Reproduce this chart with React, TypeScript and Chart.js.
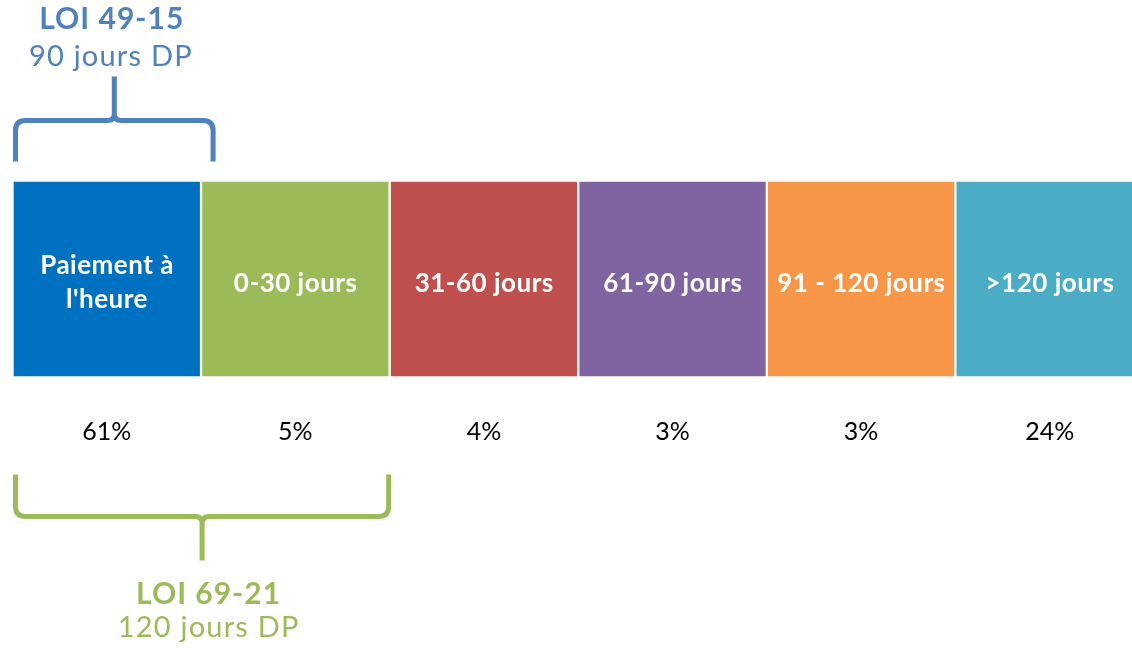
import React, { useEffect, useRef } from "react";
import { Chart, registerables } from "chart.js";

Chart.register(...registerables);

// ---- data ----
const categories: string[][] = [
  ["Paiement à", "l'heure"],
  ["0-30 jours"],
  ["31-60 jours"],
  ["61-90 jours"],
  ["91 - 120 jours"],
  [">120 jours"],
];
const shares = [61, 5, 4, 3, 3, 24];
const shareLabels = ["61%", "5%", "4%", "3%", "3%", "24%"];
const bandHeight = [1, 1, 1, 1, 1, 1];

const braceTitles = ["LOI 49-15", "LOI 69-21"];
const braceSubtitles = ["90 jours DP", "120 jours DP"];
const braceFrom = [0, 0];
const braceTo = [0, 1];
const braceSide = ["top", "bottom"];

// ---- styles ----
const boxColors = ["#0070C0", "#9BBB59", "#C0504D", "#8064A2", "#F79646", "#4BACC6"];
const braceColors = ["#4F81BD", "#9BBB59"];
const FONT = "Lato, 'Open Sans', sans-serif";

function drawBrace(
  ctx: CanvasRenderingContext2D,
  x1: number,
  x2: number,
  yBase: number,
  yMid: number,
  yTip: number,
  color: string
) {
  const dir = yTip > yBase ? 1 : -1;
  const r = 10;
  const r2 = 7;
  const xc = (x1 + x2) / 2;
  ctx.save();
  ctx.strokeStyle = color;
  ctx.lineWidth = 5;
  ctx.lineJoin = "round";
  ctx.lineCap = "butt";
  ctx.beginPath();
  ctx.moveTo(x1, yBase);
  ctx.lineTo(x1, yMid - dir * r);
  ctx.quadraticCurveTo(x1, yMid, x1 + r, yMid);
  ctx.lineTo(xc - r2, yMid);
  ctx.quadraticCurveTo(xc, yMid, xc, yMid + dir * r2);
  ctx.lineTo(xc, yTip);
  ctx.moveTo(xc, yMid + dir * r2);
  ctx.quadraticCurveTo(xc, yMid, xc + r2, yMid);
  ctx.lineTo(x2 - r, yMid);
  ctx.quadraticCurveTo(x2, yMid, x2, yMid - dir * r);
  ctx.lineTo(x2, yBase);
  ctx.stroke();
  ctx.restore();
}

function spacedText(
  ctx: CanvasRenderingContext2D,
  text: string,
  x: number,
  y: number,
  spacing: number
) {
  (ctx as any).letterSpacing = `${spacing}px`;
  ctx.fillText(text, x + spacing / 2, y);
  (ctx as any).letterSpacing = "0px";
}

const overlayPlugin = {
  id: "overlay",
  afterDatasetsDraw(chart: any) {
    const ctx: CanvasRenderingContext2D = chart.ctx;
    const meta = chart.getDatasetMeta(0);
    const area = chart.chartArea;
    const cy = (area.top + area.bottom) / 2;
    ctx.save();
    ctx.fillStyle = "#ffffff";
    ctx.textAlign = "center";
    ctx.textBaseline = "alphabetic";
    ctx.font = `bold 26px ${FONT}`;
    meta.data.forEach((bar: any, i: number) => {
      const lines = categories[i];
      if (lines.length === 1) {
        spacedText(ctx, lines[0], bar.x, cy + 12.5, 0.5);
      } else {
        spacedText(ctx, lines[0], bar.x, cy - 5, 0.5);
        spacedText(ctx, lines[1], bar.x, cy + 28.5, 0.5);
      }
    });
    // percentages
    ctx.fillStyle = "#000000";
    ctx.font = `25px ${FONT}`;
    meta.data.forEach((bar: any, i: number) => {
      ctx.fillText(shareLabels[i], bar.x, area.bottom + 62);
    });
    // braces
    braceTitles.forEach((title, k) => {
      const a = meta.data[braceFrom[k]];
      const b = meta.data[braceTo[k]];
      const x1 = a.x - a.width / 2 + 3;
      const top = braceSide[k] === "top";
      const x2 = b.x + b.width / 2 + (top ? 12 : -1);
      const xc = (x1 + x2) / 2;
      const color = braceColors[k];
      if (top) {
        drawBrace(ctx, x1, x2, area.top - 19, area.top - 60, area.top - 104, color);
        ctx.fillStyle = color;
        ctx.font = `bold 30px ${FONT}`;
        spacedText(ctx, title, xc - 3, area.top - 152, 1);
        ctx.font = `29px ${FONT}`;
        spacedText(ctx, braceSubtitles[k], xc - 4, area.top - 115, 1.2);
      } else {
        drawBrace(ctx, x1, x2, area.bottom + 97, area.bottom + 139, area.bottom + 183, color);
        ctx.fillStyle = color;
        ctx.font = `bold 30px ${FONT}`;
        spacedText(ctx, title, xc + 6, area.bottom + 226, 1);
        ctx.font = `29px ${FONT}`;
        spacedText(ctx, braceSubtitles[k], xc + 6, area.bottom + 259, 1.2);
      }
    });
    ctx.restore();
  },
};

export default function App() {
  const canvasRef = useRef<HTMLCanvasElement | null>(null);

  useEffect(() => {
    if (!canvasRef.current) return;
    const chart = new Chart(canvasRef.current, {
      type: "bar",
      data: {
        labels: categories,
        datasets: [
          {
            label: "Part",
            data: bandHeight,
            backgroundColor: boxColors,
            borderColor: "#ffffff",
            borderWidth: 1.5,
            borderSkipped: false,
            barPercentage: 1,
            categoryPercentage: 1,
          },
        ],
      },
      options: {
        responsive: false,
        animation: false,
        layout: { padding: { left: 12.5, right: 0, top: 180.5, bottom: 270.5 } },
        plugins: {
          legend: { display: false },
          tooltip: { enabled: false },
          title: { display: false },
        },
        scales: {
          x: { display: false },
          y: { display: false, min: 0, max: 1 },
        },
      },
      plugins: [overlayPlugin],
    });
    return () => chart.destroy();
  }, []);

  return (
    <div
      style={{
        position: "fixed",
        left: 0,
        top: 0,
        width: 1132,
        height: 648,
        overflow: "hidden",
        background: "#ffffff",
      }}
    >
      <canvas ref={canvasRef} width={1144} height={648} style={{ display: "block" }} />
    </div>
  );
}
